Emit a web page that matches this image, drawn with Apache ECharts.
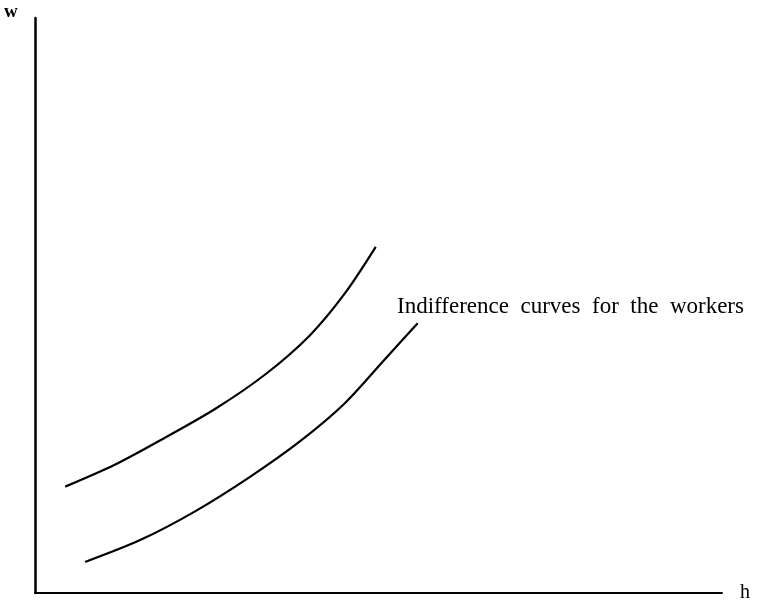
<!DOCTYPE html>
<html style="height: 100%">
<head>
    <meta charset="utf-8">
</head>
<body style="height: 100%; margin: 0; background-color: #fff;">
<div id="container" style="width: 757px; height: 604px"></div>
<script type="text/javascript" src="https://cdn.jsdelivr.net/npm/echarts@6/dist/echarts.min.js"></script>
<script type="text/javascript">
    // curves (x = h, y = w, both on a 0..100 scale)
    var upperH = [4.4, 11.6, 18.9, 26.2, 33.5, 40.0, 45.1, 49.6];
    var upperW = [18.5, 22.3, 27.0, 32.0, 38.0, 44.8, 52.1, 60.2];
    var lowerH = [7.3, 15.3, 23.3, 31.3, 38.6, 45.1, 50.9, 55.7];
    var lowerW = [5.4, 9.2, 14.2, 20.2, 26.4, 33.0, 40.6, 46.9];

    function pairs(xs, ys) {
        return xs.map(function (x, i) { return [x, ys[i]]; });
    }

    var dom = document.getElementById("container");
    var myChart = echarts.init(dom);

    var curveStyle = { color: '#000', width: 2.2 };

    var option = {
        animation: false,
        grid: { left: 35, right: 35, top: 18, bottom: 11 },
        xAxis: {
            type: 'value',
            min: 0,
            max: 100,
            name: 'h',
            nameLocation: 'end',
            nameGap: 18,
            nameTextStyle: { fontFamily: 'Liberation Serif', fontSize: 20, color: '#000' },
            axisLine: { lineStyle: { color: '#000', width: 2 } },
            axisTick: { show: false },
            axisLabel: { show: false },
            splitLine: { show: false }
        },
        yAxis: {
            type: 'value',
            min: 0,
            max: 100,
            axisLine: { lineStyle: { color: '#000', width: 2.5 } },
            axisTick: { show: false },
            axisLabel: { show: false },
            splitLine: { show: false }
        },
        graphic: [
            {
                type: 'text',
                left: 4,
                top: 3,
                style: { text: 'w', fontFamily: 'Liberation Serif', fontWeight: 'bold', fontSize: 19, fill: '#000' }
            },
            {
                type: 'text',
                left: 397,
                top: 295,
                style: { text: 'Indifference  curves  for  the  workers', fontFamily: 'Liberation Serif', fontSize: 23, fill: '#000' }
            }
        ],
        series: [
            {
                type: 'line',
                data: pairs(upperH, upperW),
                smooth: 0.3,
                showSymbol: false,
                lineStyle: curveStyle
            },
            {
                type: 'line',
                data: pairs(lowerH, lowerW),
                smooth: 0.3,
                showSymbol: false,
                lineStyle: curveStyle
            }
        ]
    };
    myChart.setOption(option);
</script>
</body>
</html>
